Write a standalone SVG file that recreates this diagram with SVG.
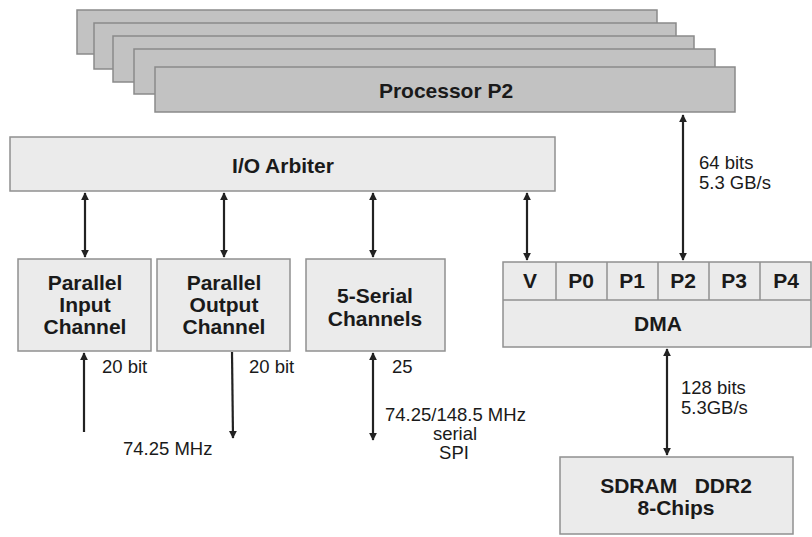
<svg xmlns="http://www.w3.org/2000/svg" width="812" height="537" viewBox="0 0 812 537">
<style>
.proc{fill:#c2c2c2;stroke:#8a8a8a;stroke-width:1.5}
.box{fill:#ebebeb;stroke:#909090;stroke-width:1.5}
.b{font-family:"Liberation Sans",Arial,sans-serif;font-weight:bold;font-size:21px;fill:#1a1a1a;text-anchor:middle}
.n{font-family:"Liberation Sans",Arial,sans-serif;font-size:18.5px;fill:#1a1a1a}
.c{text-anchor:middle}
.w{stroke:#222;stroke-width:2.2;fill:none}
</style>
<defs>
<marker id="ah" viewBox="0 0 10 10" refX="9" refY="5" markerWidth="8" markerHeight="8" markerUnits="userSpaceOnUse" orient="auto-start-reverse">
<path d="M0,0 L10,5 L0,10 z" fill="#222"/>
</marker>
</defs>
<g id="processors">
<rect class="proc" x="77" y="10" width="580" height="44"/>
<rect class="proc" x="94" y="23" width="582" height="46"/>
<rect class="proc" x="113" y="36" width="581" height="46"/>
<rect class="proc" x="134" y="49" width="581" height="45"/>
<rect class="proc" x="155" y="67" width="580" height="45"/>
<text class="b" x="446" y="98">Processor P2</text>
</g>
<g id="io-arbiter">
<rect class="box" x="10" y="137" width="545" height="54"/>
<text class="b" x="283" y="173">I/O Arbiter</text>
</g>
<g id="parallel-input">
<rect class="box" x="18" y="259" width="133" height="92"/>
<text class="b" x="85" y="290">Parallel</text>
<text class="b" x="85" y="312">Input</text>
<text class="b" x="85" y="334">Channel</text>
</g>
<g id="parallel-output">
<rect class="box" x="157" y="259" width="133" height="92"/>
<text class="b" x="224" y="290">Parallel</text>
<text class="b" x="224" y="312">Output</text>
<text class="b" x="224" y="334">Channel</text>
</g>
<g id="serial-channels">
<rect class="box" x="306" y="259" width="139" height="92"/>
<text class="b" x="375" y="303">5-Serial</text>
<text class="b" x="375" y="326">Channels</text>
</g>
<g id="dma">
<rect class="box" x="503" y="262" width="308" height="85"/>
<line x1="503" y1="300" x2="811" y2="300" stroke="#909090" stroke-width="1.5"/>
<line x1="556" y1="262" x2="556" y2="300" stroke="#909090" stroke-width="1.5"/>
<line x1="607" y1="262" x2="607" y2="300" stroke="#909090" stroke-width="1.5"/>
<line x1="658" y1="262" x2="658" y2="300" stroke="#909090" stroke-width="1.5"/>
<line x1="709" y1="262" x2="709" y2="300" stroke="#909090" stroke-width="1.5"/>
<line x1="760" y1="262" x2="760" y2="300" stroke="#909090" stroke-width="1.5"/>
<text class="b" x="530" y="288">V</text>
<text class="b" x="581" y="288">P0</text>
<text class="b" x="632" y="288">P1</text>
<text class="b" x="683" y="288">P2</text>
<text class="b" x="734" y="288">P3</text>
<text class="b" x="786" y="288">P4</text>
<text class="b" x="658" y="331">DMA</text>
</g>
<g id="sdram">
<rect class="box" x="560" y="457" width="233" height="77"/>
<text class="b" x="676" y="493" xml:space="preserve">SDRAM   DDR2</text>
<text class="b" x="676" y="515">8-Chips</text>
</g>
<g id="connectors">
<line class="w" x1="85" y1="193" x2="85" y2="257" marker-start="url(#ah)" marker-end="url(#ah)"/>
<line class="w" x1="224" y1="193" x2="224" y2="257" marker-start="url(#ah)" marker-end="url(#ah)"/>
<line class="w" x1="373" y1="193" x2="373" y2="257" marker-start="url(#ah)" marker-end="url(#ah)"/>
<line class="w" x1="527" y1="193" x2="527" y2="260" marker-start="url(#ah)" marker-end="url(#ah)"/>
<line class="w" x1="683" y1="115" x2="683" y2="260" marker-start="url(#ah)" marker-end="url(#ah)"/>
<line class="w" x1="667" y1="349" x2="667" y2="455" marker-start="url(#ah)" marker-end="url(#ah)"/>
<line class="w" x1="84" y1="432" x2="84" y2="353" marker-end="url(#ah)"/>
<line class="w" x1="232" y1="352" x2="233" y2="438" marker-end="url(#ah)"/>
<line class="w" x1="373" y1="353" x2="373" y2="440" marker-start="url(#ah)" marker-end="url(#ah)"/>
</g>
<g id="labels">
<text class="n" x="699" y="169">64 bits</text>
<text class="n" x="699" y="189">5.3 GB/s</text>
<text class="n" x="681" y="394">128 bits</text>
<text class="n" x="681" y="414">5.3GB/s</text>
<text class="n" x="102" y="373">20 bit</text>
<text class="n" x="249" y="373">20 bit</text>
<text class="n" x="392" y="373">25</text>
<text class="n" x="123" y="455">74.25 MHz</text>
<text class="n" x="385" y="421">74.25/148.5 MHz</text>
<text class="n c" x="455" y="440">serial</text>
<text class="n c" x="454" y="459">SPI</text>
</g>
</svg>
